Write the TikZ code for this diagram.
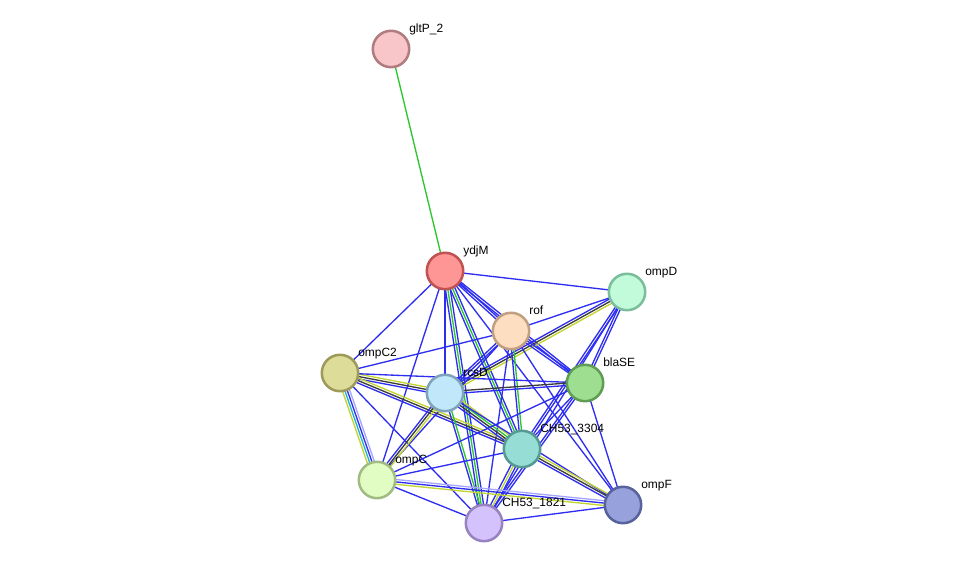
\documentclass[tikz,border=0pt]{standalone}
\usepackage{fontspec}
\setmainfont{Liberation Sans}
\usetikzlibrary{calc,backgrounds}
\definecolor{sblue}{HTML}{2E2EF2}
\definecolor{sgreen}{HTML}{2CC72C}
\definecolor{sblack}{HTML}{3C3C3C}
\definecolor{syellow}{HTML}{C2D430}
\definecolor{scyan}{HTML}{26B0D4}
\definecolor{slight}{HTML}{A6A6FF}
% node colours: fill / border
\definecolor{gltP-f}{HTML}{F8C6C8}\definecolor{gltP-d}{HTML}{B07C7F}
\definecolor{ydjM-f}{HTML}{FF9696}\definecolor{ydjM-d}{HTML}{C05252}
\definecolor{ompD-f}{HTML}{C2FBDA}\definecolor{ompD-d}{HTML}{7BBE9B}
\definecolor{rof-f}{HTML}{FDDEC1}\definecolor{rof-d}{HTML}{C0A080}
\definecolor{ompCt-f}{HTML}{DEDC99}\definecolor{ompCt-d}{HTML}{9D9A5B}
\definecolor{rcsD-f}{HTML}{C1E7FB}\definecolor{rcsD-d}{HTML}{7FA3BC}
\definecolor{blaSE-f}{HTML}{9EDE90}\definecolor{blaSE-d}{HTML}{5E9D53}
\definecolor{chA-f}{HTML}{95DDD5}\definecolor{chA-d}{HTML}{559A93}
\definecolor{ompC-f}{HTML}{E1FDC4}\definecolor{ompC-d}{HTML}{A0BC83}
\definecolor{chB-f}{HTML}{D4C2FD}\definecolor{chB-d}{HTML}{9683C0}
\definecolor{ompF-f}{HTML}{97A2DD}\definecolor{ompF-d}{HTML}{58629D}

\newcommand{\lnk}[3]{%
  \foreach \c [count=\i] in {#3} {\xdef\nlin{\i}}%
  \foreach \c [count=\i] in {#3} {%
    \pgfmathsetmacro\off{(\i-(\nlin+1)/2)*1.7}%
    \draw[edge, \c] ($(#1.center)!\off pt!90:(#2.center)$) -- ($(#2.center)!\off pt!-90:(#1.center)$);
  }%
}

\begin{document}
\begin{tikzpicture}[
  x=0.025cm, y=-0.025cm,
  prot/.style={circle, draw, line width=1.8pt, minimum size=0.91cm, inner sep=0pt},
  lbl/.style={anchor=base west, font=\fontsize{8.5}{10}\selectfont, inner sep=0pt},
  edge/.style={line width=0.95pt},
]
  \useasboundingbox (0,0) rectangle (976,569);

  % ---- proteins ------------------------------------------------------------
  \foreach \n/\x/\y/\lb in {gltP/391/49/gltP\_2, ydjM/445/271/ydjM,
                            ompD/627/292/ompD, rof/511/331/rof,
                            ompCt/340/373/ompC2, rcsD/445/393/rcsD,
                            blaSE/585/383/blaSE, chA/522/449/CH53\_3304,
                            ompC/377/480/ompC, chB/484/523/CH53\_1821,
                            ompF/623/505/ompF} {
    \node[prot, fill=\n-f, draw=\n-d] (\n) at (\x,\y) {};
    \node[lbl] (\n-l) at ([shift={(18,-16)}]\n.center) {\lb};
  }

  % ---- evidence lines ------------------------------------------------------
  \begin{pgfonlayer}{background}
    \lnk{gltP}{ydjM}{sgreen}
    \lnk{ydjM}{ompD}{sblue}
    \lnk{ydjM}{rof}{sblue,sblue}
    \lnk{ydjM}{ompCt}{sblue}
    \lnk{ydjM}{rcsD}{sblue}
    \lnk{ydjM}{blaSE}{sblue,sblue}
    \lnk{ydjM}{chA}{sblue,sgreen,sblue}
    \lnk{ydjM}{chB}{sblue,sgreen,sblue}
    \lnk{ydjM}{ompC}{sblue}
    \lnk{ydjM}{ompF}{sblue}
    \lnk{ompD}{rof}{sblue}
    \lnk{ompD}{rcsD}{sblue,sblack,syellow}
    \lnk{ompD}{blaSE}{sblue,sblue}
    \lnk{ompD}{chA}{sblue,sblue}
    \lnk{ompD}{chB}{sblue}
    \lnk{ompCt}{rof}{sblue}
    \lnk{rof}{blaSE}{sblue,sblue}
    \lnk{rof}{rcsD}{sblue,sblue}
    \lnk{rof}{chA}{sblue,sgreen}
    \lnk{rof}{chB}{sblue}
    \lnk{rof}{ompF}{sblue}
    \lnk{rof}{ompC}{sblue}
    \lnk{ompCt}{rcsD}{sblue,sblack,syellow}
    \lnk{ompCt}{blaSE}{sblue}
    \lnk{ompCt}{chA}{sblue,sblack,syellow}
    \lnk{ompCt}{ompC}{syellow,scyan,sblue,slight}
    \lnk{ompCt}{chB}{sblue}
    \lnk{rcsD}{blaSE}{sblue,sblack}
    \lnk{rcsD}{chA}{sblue,sblack,sgreen,syellow}
    \lnk{rcsD}{ompC}{sblue,sblack,syellow}
    \lnk{rcsD}{chB}{sblue,sgreen}
    \lnk{rcsD}{ompF}{sblue}
    \lnk{blaSE}{chA}{sblue}
    \lnk{blaSE}{ompC}{sblue}
    \lnk{blaSE}{chB}{sblue,sblue}
    \lnk{blaSE}{ompF}{sblue}
    \lnk{chA}{ompC}{sblue}
    \lnk{chA}{chB}{sblue,syellow,sblue}
    \lnk{chA}{ompF}{sblue,sblack,syellow}
    \lnk{ompC}{chB}{sblue}
    \lnk{ompC}{ompF}{syellow,sblue,slight}
    \lnk{chB}{ompF}{sblue}
  \end{pgfonlayer}
\end{tikzpicture}
\end{document}
